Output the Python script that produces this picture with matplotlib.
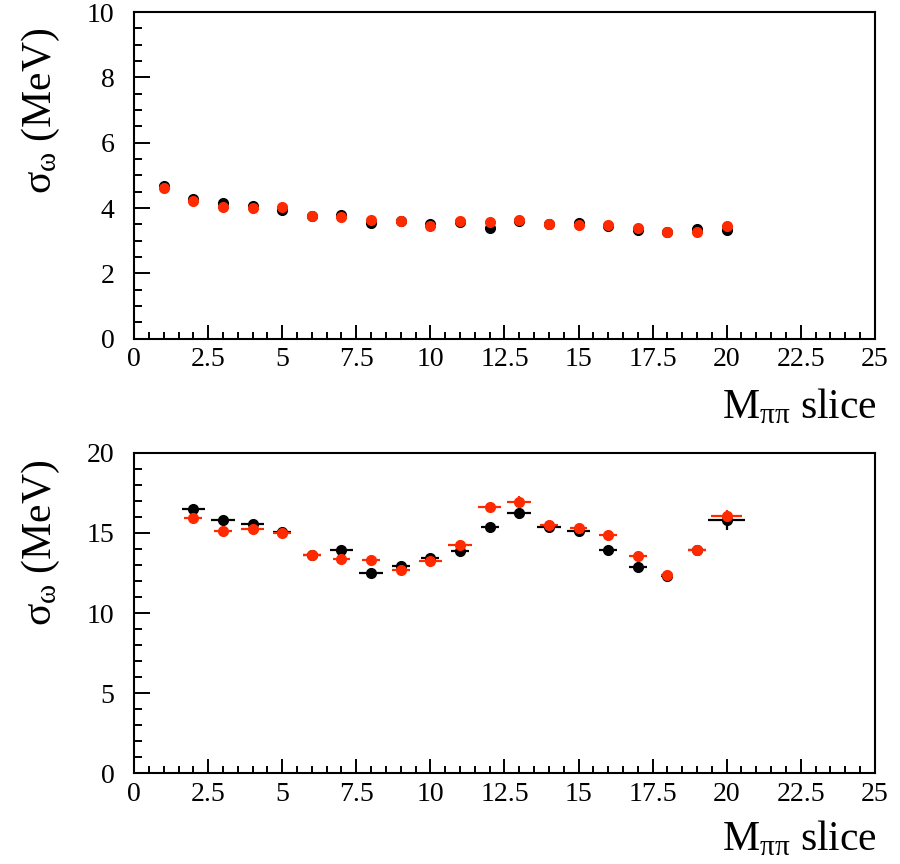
import numpy as np
import matplotlib
matplotlib.use("Agg")
import matplotlib.pyplot as plt
from matplotlib.ticker import MultipleLocator

plt.rcParams["font.family"] = ["Liberation Serif", "DejaVu Serif"]
plt.rcParams["mathtext.fontset"] = "custom"
plt.rcParams["mathtext.rm"] = "Liberation Serif"
plt.rcParams["mathtext.it"] = "Liberation Serif"
plt.rcParams["mathtext.bf"] = "Liberation Serif:bold"

# top panel: sigma_omega per M_pipi slice
top_x = [1, 2, 3, 4, 5, 6, 7, 8, 9, 10, 11, 12, 13, 14, 15, 16, 17, 18, 19, 20]
top_black = [4.68, 4.28, 4.14, 4.05, 3.94, 3.76, 3.80, 3.55, 3.60, 3.52,
             3.57, 3.39, 3.61, 3.50, 3.55, 3.46, 3.33, 3.26, 3.35, 3.33]
top_red = [4.60, 4.22, 4.04, 4.00, 4.04, 3.76, 3.73, 3.63, 3.59, 3.46,
           3.59, 3.58, 3.63, 3.50, 3.48, 3.48, 3.38, 3.28, 3.28, 3.45]
top_black_err = [0.08] * 20
top_red_err = [0.08] * 20
top_xerr = [0.15] * 20

# bottom panel
bot_x = [2, 3, 4, 5, 6, 7, 8, 9, 10, 11, 12, 13, 14, 15, 16, 17, 18, 19, 20]
bot_black = [16.5, 15.83, 15.56, 15.06, 13.6, 13.91, 12.5, 12.96, 13.44, 13.85,
             15.35, 16.21, 15.35, 15.1, 13.96, 12.87, 12.3, 13.96, 15.79]
bot_red = [15.94, 15.1, 15.25, 15.0, 13.64, 13.37, 13.29, 12.71, 13.27, 14.27,
           16.6, 16.91, 15.46, 15.31, 14.85, 13.58, 12.35, 13.91, 16.08]
bot_black_err = [0.25, 0.25, 0.25, 0.2, 0.2, 0.25, 0.3, 0.25, 0.2, 0.25,
                 0.25, 0.35, 0.2, 0.2, 0.25, 0.3, 0.2, 0.2, 0.6]
bot_red_err = [0.3, 0.3, 0.3, 0.25, 0.2, 0.3, 0.3, 0.25, 0.2, 0.3,
               0.3, 0.42, 0.2, 0.25, 0.25, 0.3, 0.2, 0.2, 0.35]
bot_black_xerr = [0.4, 0.4, 0.4, 0.3, 0.3, 0.4, 0.4, 0.3, 0.3, 0.3,
                  0.3, 0.4, 0.4, 0.4, 0.3, 0.3, 0.2, 0.3, 0.62]
bot_red_xerr = [0.3, 0.3, 0.4, 0.3, 0.3, 0.3, 0.3, 0.3, 0.4, 0.4,
                0.4, 0.4, 0.3, 0.3, 0.3, 0.3, 0.2, 0.3, 0.52]

RED = "#ff2a00"


def style_axes(ax, ymax, ymajor, yminor):
    ax.set_xlim(0, 25)
    ax.set_ylim(0, ymax)
    ax.xaxis.set_major_locator(MultipleLocator(2.5))
    ax.xaxis.set_minor_locator(MultipleLocator(0.5))
    ax.yaxis.set_major_locator(MultipleLocator(ymajor))
    ax.yaxis.set_minor_locator(MultipleLocator(yminor))
    ax.xaxis.set_major_formatter(plt.FuncFormatter(lambda v, p: f"{v:g}"))
    ax.tick_params(which="both", direction="in", top=False, right=False,
                   width=1.4, labelsize=20)
    ax.tick_params(axis="y", which="major", length=11.5, pad=14)
    ax.tick_params(axis="y", which="minor", length=5.5)
    ax.tick_params(axis="x", which="major", length=10, pad=6)
    ax.tick_params(axis="x", which="minor", length=5)
    for s in ax.spines.values():
        s.set_linewidth(1.5)


def draw(ax, x, yb, yr, eb, er, xb, xr):
    ax.errorbar(x, yb, yerr=eb, xerr=xb, fmt="o", color="black",
                markersize=7, elinewidth=1.6, capsize=0)
    ax.errorbar(x, yr, yerr=er, xerr=xr, fmt="o", color=RED,
                markersize=7, elinewidth=1.6, capsize=0)


fig = plt.figure(figsize=(9, 8.64), dpi=100)
ax1 = fig.add_axes([0.149, 0.608, 0.823, 0.378])
ax2 = fig.add_axes([0.149, 0.105, 0.823, 0.371])

draw(ax1, top_x, top_black, top_red, top_black_err, top_red_err,
     top_xerr, top_xerr)
style_axes(ax1, 10, 2, 0.5)

draw(ax2, bot_x, bot_black, bot_red, bot_black_err, bot_red_err,
     bot_black_xerr, bot_red_xerr)
style_axes(ax2, 20, 5, 1)

ylab = r"$\sigma_{\omega}$ (MeV)"
xlab = r"M$_{\pi\pi}$ slice"

ax1.set_ylabel(ylab, fontsize=30, loc="top")
ax1.yaxis.set_label_coords(-0.097, 0.954)
ax1.set_xlabel(xlab, fontsize=30, loc="right")
ax1.xaxis.set_label_coords(1.003, -0.15)

ax2.set_ylabel(ylab, fontsize=30, loc="top")
ax2.yaxis.set_label_coords(-0.097, 0.978)
ax2.set_xlabel(xlab, fontsize=30, loc="right")
ax2.xaxis.set_label_coords(1.003, -0.145)

fig.savefig("out.png", dpi=100)
